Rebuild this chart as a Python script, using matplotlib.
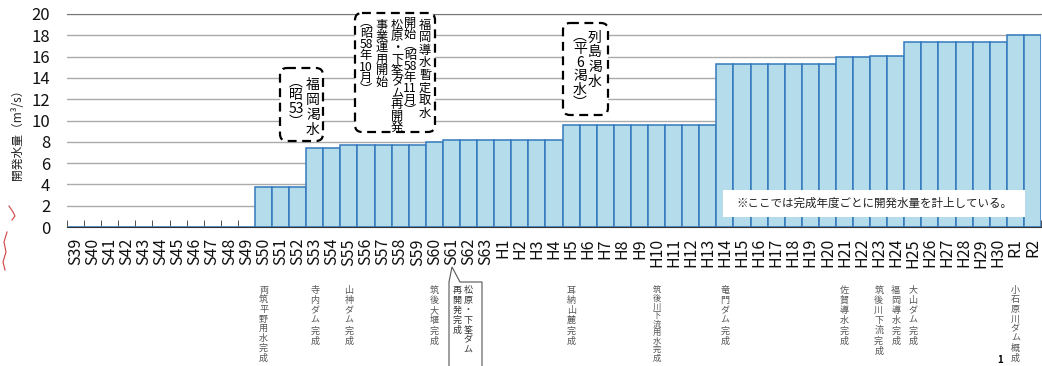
import re
import matplotlib
matplotlib.use('Agg')
import matplotlib.pyplot as plt
from matplotlib.patches import FancyBboxPatch, Polygon, Rectangle
from matplotlib.transforms import Affine2D, blended_transform_factory
from matplotlib.lines import Line2D
import numpy as np

plt.rcParams['font.family'] = ['Noto Sans CJK JP', 'DejaVu Sans']

# fiscal years (Showa / Heisei / Reiwa)
years = ['S39', 'S40', 'S41', 'S42', 'S43', 'S44', 'S45', 'S46', 'S47', 'S48',
         'S49', 'S50', 'S51', 'S52', 'S53', 'S54', 'S55', 'S56', 'S57', 'S58',
         'S59', 'S60', 'S61', 'S62', 'S63',
         'H1', 'H2', 'H3', 'H4', 'H5', 'H6', 'H7', 'H8', 'H9', 'H10',
         'H11', 'H12', 'H13', 'H14', 'H15', 'H16', 'H17', 'H18', 'H19', 'H20',
         'H21', 'H22', 'H23', 'H24', 'H25', 'H26', 'H27', 'H28', 'H29', 'H30',
         'R1', 'R2']

# developed water volume (m3/s)
water = [0, 0, 0, 0, 0, 0, 0, 0, 0, 0,
         0, 3.72, 3.72, 3.72, 7.42, 7.42, 7.72, 7.72, 7.72, 7.72,
         7.72, 8.0, 8.15, 8.15, 8.15,
         8.15, 8.15, 8.15, 8.15, 9.56, 9.56, 9.56, 9.56, 9.56, 9.56,
         9.56, 9.56, 9.56, 15.27, 15.27, 15.27, 15.27, 15.27, 15.27, 15.27,
         15.93, 15.93, 16.05, 16.05, 17.37, 17.37, 17.37, 17.37, 17.37, 17.37,
         18.05, 18.05]

yticks = [0, 2, 4, 6, 8, 10, 12, 14, 16, 18, 20]

# facility completions written under the axis
completions = {
    'S50': '両筑平野用水完成',
    'S53': '寺内ダム完成',
    'S55': '山神ダム完成',
    'S60': '筑後大堰完成',
    'H5': '耳納山麓完成',
    'H10': '筑後川下流用水完成',
    'H14': '竜門ダム完成',
    'H21': '佐賀導水完成',
    'H23': '筑後川下流完成',
    'H24': '福岡導水完成',
    'H25': '大山ダム完成',
    'R1': '小石原川ダム概成',
}

note = '※ここでは完成年度ごとに開発水量を計上している。'

W, H = 1042, 366
fig = plt.figure(figsize=(W / 100, H / 100), dpi=100)
ax = fig.add_axes([67 / W, 1 - 227 / H, 974 / W, 213 / H])
# pixel coords, origin top-left
pix = Affine2D().scale(1 / W, -1 / H).translate(0, 1) + fig.transFigure
xpix = blended_transform_factory(ax.transData, pix)

x = np.arange(len(years))
ax.bar(x, water, width=1.0, color='#b4dceb', edgecolor='#3479bd', linewidth=1.1, zorder=2)
ax.set_xlim(-0.5, len(years) - 0.5)
ax.set_ylim(0, 20)
ax.set_yticks(yticks)
ax.yaxis.grid(True, color='#ababab', lw=1.0)
ax.set_axisbelow(True)
ax.spines['left'].set_visible(False)
ax.spines['right'].set_visible(False)
ax.spines['top'].set_color('#777777')
ax.spines['bottom'].set_color('#333333')
ax.set_xticks(x)
ax.set_xticklabels(years, rotation=90, fontsize=11.5, color='#111111')
ax.set_xticks(np.arange(-0.5, len(years)), minor=True)
ax.tick_params(axis='x', which='major', length=0, pad=8)
ax.tick_params(axis='x', which='minor', direction='in', length=5, color='#333333')
ax.tick_params(axis='y', length=0, pad=12, labelsize=12, labelcolor='#111111')

fig.text(18, 132, '開発水量（m³/s）', transform=pix, rotation=90,
         ha='center', va='center', fontsize=8.5, color='#222222')


def tokens(s):
    s = s.replace('（', '︵').replace('）', '︶')
    return re.findall(r'\d+|.', s)


def vtext(xp, y0, s, step, size, color='black', trans=pix):
    for i, t in enumerate(tokens(s)):
        fig.text(xp, y0 + i * step, t, transform=trans, ha='center', va='center',
                 fontsize=size, color=color, zorder=7)


def dashed_box(x0, y0, x1, y1):
    b = FancyBboxPatch((x0, y0), x1 - x0, y1 - y0,
                       boxstyle='round,pad=0,rounding_size=7', transform=pix,
                       fc='white', ec='black', lw=1.6, ls=(0, (4, 2.5)), zorder=6)
    fig.add_artist(b)


# drought callouts
dashed_box(280, 68, 323, 141)
vtext(313, 85, '福岡渇水', 15, 10)
vtext(296, 82, '（昭53）', 13.3, 10)

dashed_box(355, 13, 435, 132)
vtext(425, 25, '福岡導水暫定取水', 12.6, 8.8)
vtext(410, 23, '開始（昭58年11月）', 11, 8.8)
vtext(397, 25, '松原・下筌ダム再開発', 11.4, 8.8)
vtext(382, 25, '事業運用開始', 11.4, 8.8)
vtext(366, 22, '（昭58年10月）', 11.3, 8.8)

dashed_box(563, 23, 608, 115)
vtext(595, 38, '列島渇水', 14.7, 10)
vtext(580, 36, '（平6渇水）', 13.4, 10)

# note box
fig.add_artist(Rectangle((723, 190), 302, 27, transform=pix, fc='white', ec='none', zorder=6))
fig.text(874, 203.5, note, transform=pix, ha='center', va='center', fontsize=8.3,
         color='#222222', zorder=7)

# completions below the axis (long ones packed a bit tighter so they fit)
for yr, txt in completions.items():
    step = min(10.2, 68.0 / (len(txt) - 1))
    size = min(6.5, step * 0.7)
    vtext(years.index(yr), 290, txt, step, size, color='#555555', trans=xpix)

# speech bubble under S61
fig.add_artist(Polygon([(449, 372), (449, 282), (452, 267), (460, 282), (482, 282), (482, 372)],
                       closed=False, fill=False, ec='#555555', lw=0.8, transform=pix))
vtext(468, 290, '松原・下筌ダム', 10, 6.5, color='#333333')
vtext(457, 290, '再開発完成', 10, 6.5, color='#333333')

# scan marks
fig.add_artist(Line2D([9, 13, 15, 12], [206, 212, 216, 220], color='#d04040', lw=0.8, transform=pix))
fig.add_artist(Line2D([7, 4, 6, 3, 5], [232, 242, 252, 262, 270], color='#d04040', lw=0.8, transform=pix))
fig.text(1000, 355, '1', transform=pix, ha='center', va='top', fontsize=7,
         fontweight='bold', color='black')

fig.savefig('out.png', dpi=100)
